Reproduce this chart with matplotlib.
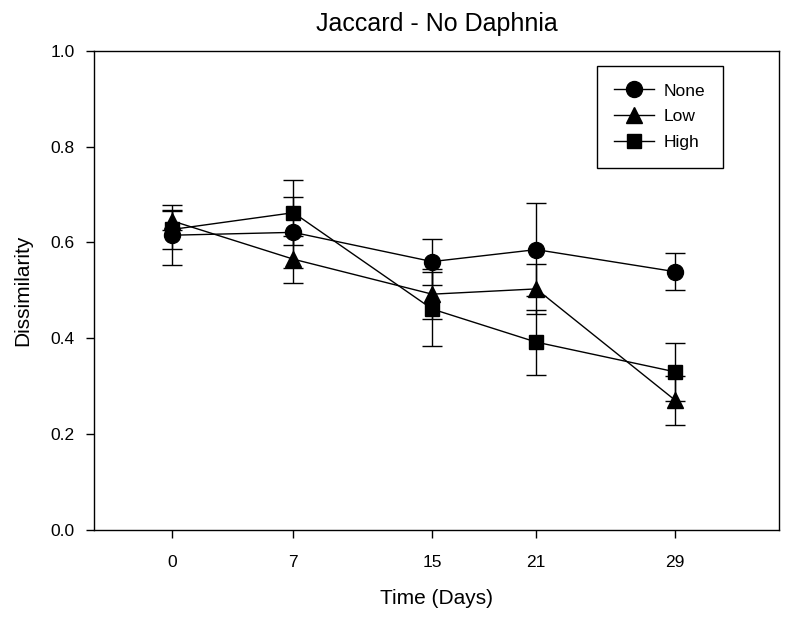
import numpy as np
import matplotlib
matplotlib.use("Agg")
import matplotlib.pyplot as plt

plt.rcParams['font.family'] = ['Liberation Sans', 'DejaVu Sans']

days = [0, 7, 15, 21, 29]
none_mean = [0.615, 0.621, 0.560, 0.585, 0.539]
none_err = [0.063, 0.074, 0.048, 0.097, 0.039]
low_mean = [0.645, 0.565, 0.492, 0.503, 0.271]
low_err = [0.020, 0.049, 0.052, 0.052, 0.051]
high_mean = [0.627, 0.662, 0.461, 0.392, 0.330]
high_err = [0.041, 0.068, 0.077, 0.068, 0.060]

fig = plt.figure(figsize=(7.85, 6.19), dpi=100)
ax = fig.add_axes([0.1197, 0.1438, 0.8727, 0.7743])

series = [("None", none_mean, none_err, "o", 11.5),
          ("Low", low_mean, low_err, "^", 12),
          ("High", high_mean, high_err, "s", 10.5)]
for name, m, e, mk, ms in series:
    ax.errorbar(days, m, yerr=e, color="black", marker=mk, markersize=ms,
                lw=1.0, elinewidth=1.0, capsize=7, capthick=1.0, label=name)

ax.set_xlim(-4.5, 35)
ax.set_ylim(0, 1.0)
ax.set_xticks(days)
ax.set_xticklabels([str(d) for d in days])
ax.set_yticks([0.0, 0.2, 0.4, 0.6, 0.8, 1.0])
ax.set_yticklabels(["0.0", "0.2", "0.4", "0.6", "0.8", "1.0"])
ax.tick_params(direction="out", length=6, width=1, labelsize=12.5)
ax.tick_params(axis="x", pad=12)
ax.tick_params(axis="y", pad=8)
for s in ax.spines.values():
    s.set_linewidth(1.0)

ax.set_title("Jaccard - No Daphnia", fontsize=18, pad=14)
ax.set_xlabel("Time (Days)", fontsize=15, labelpad=14)
ax.set_ylabel("Dissimilarity", fontsize=15, labelpad=13)

handles, labels = ax.get_legend_handles_labels()
handles = [h[0] for h in handles]
leg = ax.legend(handles, labels, loc="upper left", bbox_to_anchor=(0.734, 0.968),
                borderaxespad=0, fancybox=False, edgecolor="black", fontsize=12.5,
                handlelength=2.3, labelspacing=0.62, borderpad=1.0, handletextpad=0.55,
                framealpha=1)
leg.get_frame().set_linewidth(1.0)

fig.savefig("out.png", dpi=100)
